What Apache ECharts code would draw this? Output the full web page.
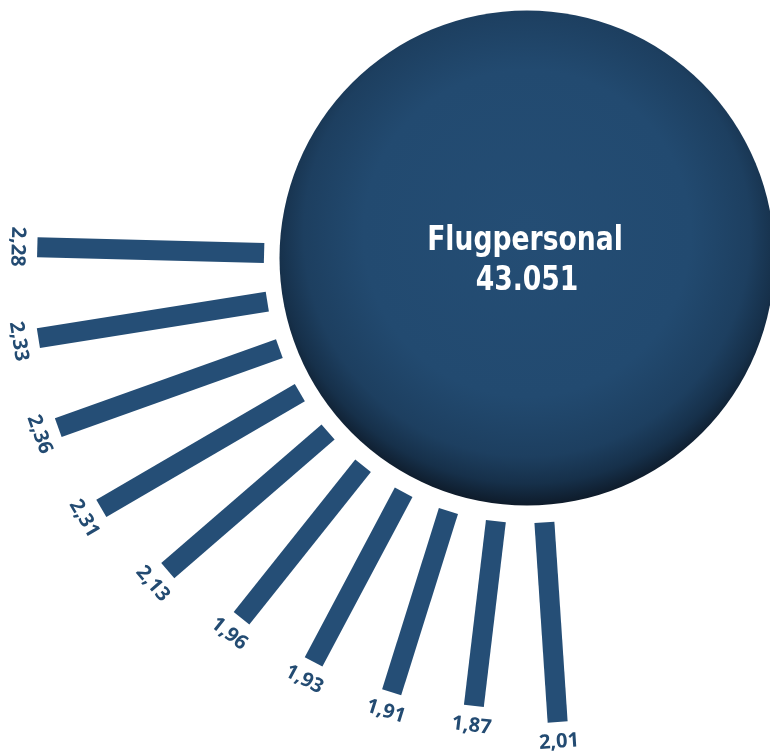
<!DOCTYPE html>
<html>
<head>
<meta charset="utf-8">
<script src="https://cdn.jsdelivr.net/npm/echarts@6/dist/echarts.min.js"></script>
<style>
  html, body { margin: 0; padding: 0; background: #fff; }
  #chart { width: 770px; height: 753px; }
</style>
</head>
<body>
<div id="chart"></div>
<script>
// werte der balken (im uhrzeigersinn von links nach unten)
var values = [2.28, 2.33, 2.36, 2.31, 2.13, 1.96, 1.93, 1.91, 1.87, 2.01];
var slots = [0, 1, 2, 3, 4, 5, 6, 7, 8, 9];
var centerTitle = 'Flugpersonal';
var centerValue = '43.051';

var BAR_COLOR = '#254e76';
var LABEL_COLOR = '#234b72';
var BAR_W = 20;
var LABEL_GAP = 20;
var CENTER_FONT = 'bold 34px "DejaVu Sans Condensed", "Liberation Sans Narrow", sans-serif';

function fmt(v){
	return v.toFixed(2).replace('.', ',');
}

var data = [];
for (var i = 0; i < values.length; i++) {
	data.push([slots[i], values[i]]);
}

var chart = echarts.init(document.getElementById('chart'));
var option = {
	animation: false,
	polar: {
		center: [527, 260],
		radius: [263, 263 + 99.5 * 3]
	},
	radiusAxis: { type: 'value', min: 0, max: 3, show: false },
	angleAxis: { type: 'value', min: 0, max: 34, startAngle: 178.5, clockwise: false, show: false },
	graphic: [
		{
			type: 'circle',
			shape: { cx: 527, cy: 258, r: 247.5 },
			style: {
				fill: new echarts.graphic.RadialGradient(0.5, 0.45, 0.55, [
					{ offset: 0, color: '#244d74' },
					{ offset: 0.6, color: '#224a70' },
					{ offset: 0.82, color: '#1d3f60' },
					{ offset: 0.92, color: '#16304a' },
					{ offset: 1, color: '#0e1b2a' }
				])
			}
		},
		{
			type: 'text',
			x: 525, y: 241,
			scaleX: 0.87,
			style: {
				text: centerTitle,
				fill: '#fff',
				font: CENTER_FONT,
				align: 'center',
				verticalAlign: 'middle'
			}
		},
		{
			type: 'text',
			x: 527, y: 281,
			scaleX: 0.87,
			style: {
				text: centerValue,
				fill: '#fff',
				font: CENTER_FONT,
				align: 'center',
				verticalAlign: 'middle'
			}
		}
	],
	series: [{
		type: 'custom',
		coordinateSystem: 'polar',
		encode: { angle: 0, radius: 1 },
		data: data,
		renderItem: function(params, api){
			var idx = api.value(0), val = api.value(1);
			var p0 = api.coord([0, idx]);
			var p1 = api.coord([val, idx]);
			var dx = p1[0] - p0[0], dy = p1[1] - p0[1];
			var len = Math.sqrt(dx * dx + dy * dy);
			var ux = dx / len, uy = dy / len;
			var nx = -uy * BAR_W / 2, ny = ux * BAR_W / 2;
			var ang = Math.atan2(-dy, dx);
			return {
				type: 'group',
				children: [
					{
						type: 'polygon',
						shape: { points: [
							[p0[0] + nx, p0[1] + ny],
							[p1[0] + nx, p1[1] + ny],
							[p1[0] - nx, p1[1] - ny],
							[p0[0] - nx, p0[1] - ny]
						] },
						style: { fill: BAR_COLOR }
					},
					{
						type: 'text',
						x: p1[0] + ux * LABEL_GAP,
						y: p1[1] + uy * LABEL_GAP,
						rotation: ang - Math.PI * 1.5,
						style: {
							text: fmt(val),
							fill: LABEL_COLOR,
							font: 'bold 20px "Open Sans", sans-serif',
							align: 'center',
							verticalAlign: 'middle'
						}
					}
				]
			};
		}
	}]
};
chart.setOption(option);
</script>
</body>
</html>
